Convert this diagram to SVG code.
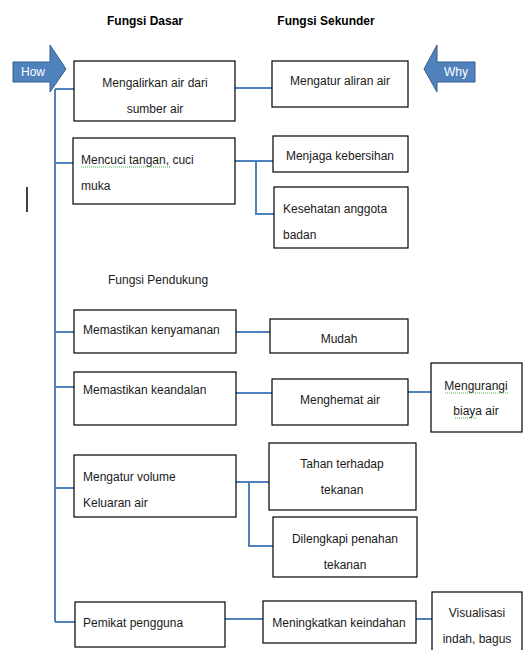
<svg xmlns="http://www.w3.org/2000/svg" width="523" height="650" viewBox="0 0 523 650">
<style>
.box{fill:#fff;stroke:#000;stroke-width:1.2}
.t{font-family:"Liberation Sans",Arial,sans-serif;font-size:12px;fill:#1a1a1a}
.c{text-anchor:middle}
.h{font-family:"Liberation Sans",Arial,sans-serif;font-size:12px;font-weight:bold;fill:#000;text-anchor:middle}
.con{fill:none;stroke:#4f81bd;stroke-width:2}
.arr{fill:#4f81bd;stroke:#385d8a;stroke-width:1}
.at{font-family:"Liberation Sans",Arial,sans-serif;font-size:12px;fill:#fff;text-anchor:middle}
.sp{fill:none;stroke:#4caf50;stroke-width:1;stroke-dasharray:1 1}
</style>
<rect width="523" height="650" fill="#fff"/>
<text class="h" x="145" y="25">Fungsi Dasar</text>
<text class="h" x="326" y="25">Fungsi Sekunder</text>
<text class="t" x="108" y="284">Fungsi Pendukung</text>
<line x1="27" y1="187" x2="27" y2="212" stroke="#000" stroke-width="1.5"/>
<g id="how"><polygon class="arr" points="13,62 50,62 50,45 66,69 50,92 50,82 13,82"/><text class="at" x="33" y="76">How</text></g>
<g id="why"><polygon class="arr" points="475,62 437,62 437,45 424,69 437,92 437,82 475,82"/><text class="at" x="456" y="76">Why</text></g>
<g id="connectors">
<path class="con" d="M55,89 V622"/>
<path class="con" d="M55,89 H74 M55,163 H73 M55,332 H74 M55,387 H74 M55,488 H74 M55,622 H75"/>
<path class="con" d="M235,88 H272"/>
<path class="con" d="M235,161 H273 M256,161 V214 H275"/>
<path class="con" d="M236,332 H270"/>
<path class="con" d="M236,393 H272 M408,392 H431"/>
<path class="con" d="M233,482 H269 M249,482 V546 H273"/>
<path class="con" d="M225,619 H263 M416,619 H432"/>
</g>
<g id="n1"><rect class="box" x="74" y="61" width="161" height="60"/><text class="t c" x="155" y="87">Mengalirkan air dari</text><text class="t c" x="155" y="113">sumber air</text></g>
<g id="n2"><rect class="box" x="272" y="61" width="136" height="46"/><text class="t c" x="340" y="85">Mengatur aliran air</text></g>
<g id="n3"><rect class="box" x="73" y="138" width="162" height="66"/><text class="t" x="81" y="164">Mencuci tangan, cuci</text><path class="sp" d="M81,167 H170"/><text class="t" x="81" y="190">muka</text></g>
<g id="n4"><rect class="box" x="273" y="136" width="135" height="36"/><text class="t c" x="340" y="160">Menjaga kebersihan</text></g>
<g id="n5"><rect class="box" x="274" y="187" width="134" height="61"/><text class="t" x="283" y="213">Kesehatan anggota</text><text class="t" x="283" y="239">badan</text></g>
<g id="n6"><rect class="box" x="74" y="310" width="162" height="43"/><text class="t" x="83" y="334">Memastikan kenyamanan</text></g>
<g id="n7"><rect class="box" x="270" y="319" width="138" height="34"/><text class="t c" x="339" y="343">Mudah</text></g>
<g id="n8"><rect class="box" x="74" y="372" width="162" height="53"/><text class="t" x="83" y="394">Memastikan keandalan</text></g>
<g id="n9"><rect class="box" x="272" y="379" width="136" height="46"/><text class="t c" x="340" y="404">Menghemat air</text></g>
<g id="n10"><rect class="box" x="431" y="363" width="91" height="69"/><text class="t c" x="476" y="390">Mengurangi</text><path class="sp" d="M445,393 H508"/><text class="t c" x="476" y="415">biaya air</text><path class="sp" d="M455,418 H476"/></g>
<g id="n11"><rect class="box" x="74" y="455" width="162" height="62"/><text class="t" x="83" y="481">Mengatur volume</text><text class="t" x="83" y="507">Keluaran air</text></g>
<g id="n12"><rect class="box" x="269" y="443" width="147" height="67"/><text class="t c" x="342" y="468">Tahan terhadap</text><text class="t c" x="342" y="494">tekanan</text></g>
<g id="n13"><rect class="box" x="273" y="517" width="144" height="60"/><text class="t c" x="345" y="543">Dilengkapi penahan</text><text class="t c" x="345" y="569">tekanan</text></g>
<g id="n14"><rect class="box" x="75" y="602" width="150" height="45"/><text class="t" x="83" y="627">Pemikat pengguna</text></g>
<g id="n15"><rect class="box" x="263" y="601" width="153" height="42"/><text class="t c" x="339" y="627">Meningkatkan keindahan</text></g>
<g id="n16"><rect class="box" x="432" y="592" width="90" height="70"/><text class="t c" x="477" y="617">Visualisasi</text><text class="t c" x="477" y="643">indah, bagus</text></g>
</svg>
